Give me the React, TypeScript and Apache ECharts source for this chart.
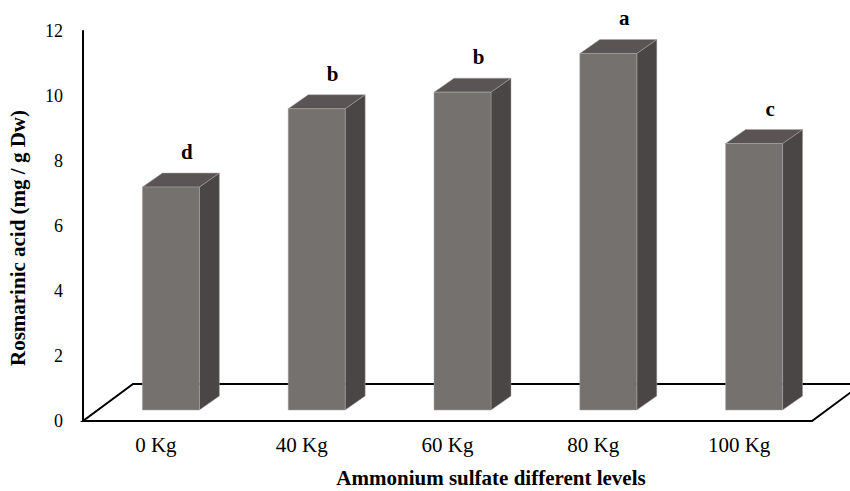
import React, { useEffect, useRef } from "react";
import * as echarts from "echarts";

const categories = ["0 Kg", "40 Kg", "60 Kg", "80 Kg", "100 Kg"];
const values = [6.86, 9.27, 9.78, 10.97, 8.2];
const letters = ["d", "b", "b", "a", "c"];
const yTicks = [0, 2, 4, 6, 8, 10, 12];

const FONT = "'Liberation Serif', 'Times New Roman', serif";

export default function App() {
  const ref = useRef<HTMLDivElement>(null);
  useEffect(() => {
    if (!ref.current) return;
    const chart = echarts.init(ref.current, null, { renderer: "svg" });

    const floorDX = 50;
    const floorDY = -37;
    const barOffX = 15;
    const barOffY = -11;
    const barW = 57;
    const depthX = 20;
    const depthY = -14;

    const option: any = {
      animation: false,
      grid: { left: 83, right: 38, top: 31, bottom: 70 },
      xAxis: {
        type: "category",
        data: categories,
        boundaryGap: true,
        axisLine: { show: true, lineStyle: { color: "#000", width: 2 } },
        axisTick: { show: false },
        axisLabel: { fontFamily: FONT, fontSize: 21, color: "#000", margin: 13 },
        splitLine: { show: false },
      },
      yAxis: {
        type: "value",
        min: yTicks[0],
        max: yTicks[yTicks.length - 1],
        interval: 2,
        axisLine: { show: true, lineStyle: { color: "#000", width: 2 } },
        axisTick: { show: false },
        axisLabel: { fontFamily: FONT, fontSize: 18, color: "#000", margin: 20 },
        splitLine: { show: false },
      },
      series: [
        {
          type: "custom",
          z: 1,
          data: [[0]],
          renderItem: (params: any, api: any) => {
            const cs = params.coordSys;
            const x0 = cs.x;
            const x1 = cs.x + cs.width;
            const y0 = cs.y + cs.height;
            return {
              type: "polygon",
              shape: {
                points: [
                  [x0, y0],
                  [x1, y0],
                  [x1 + floorDX, y0 + floorDY],
                  [x0 + floorDX, y0 + floorDY],
                ],
              },
              style: { fill: "#fff", stroke: "#000", lineWidth: 2 },
              silent: true,
            };
          },
        },
        {
          type: "custom",
          z: 2,
          data: values.map((v, i) => [i, v]),
          renderItem: (params: any, api: any) => {
            const i = api.value(0);
            const v = api.value(1);
            const base = api.coord([i, 0]);
            const top = api.coord([i, v]);
            const cx = base[0] + barOffX;
            const l = cx - barW / 2;
            const r = cx + barW / 2;
            const b = base[1] + barOffY;
            const t = top[1] + barOffY;
            const edge = "rgba(170,166,165,0.6)";
            return {
              type: "group",
              children: [
                {
                  type: "polygon",
                  shape: { points: [[r, b], [r + depthX, b + depthY], [r + depthX, t + depthY], [r, t]] },
                  style: { fill: "#4b4646", stroke: edge, lineWidth: 0.8 },
                },
                {
                  type: "polygon",
                  shape: { points: [[l, t], [r, t], [r + depthX, t + depthY], [l + depthX, t + depthY]] },
                  style: { fill: "#5a5554", stroke: edge, lineWidth: 0.8 },
                },
                {
                  type: "rect",
                  shape: { x: l, y: t, width: barW, height: b - t },
                  style: { fill: "#75716f", stroke: edge, lineWidth: 0.8 },
                },
                {
                  type: "text",
                  x: cx + 16,
                  y: t - 35,
                  style: {
                    text: letters[i],
                    align: "center",
                    verticalAlign: "middle",
                    font: `bold 21px ${FONT}`,
                    fill: "#000",
                  },
                },
              ],
            };
          },
        },
      ],
      graphic: [
        {
          type: "text",
          x: 18,
          y: 238,
          rotation: Math.PI / 2,
          style: {
            text: "Rosmarinic acid (mg / g Dw)",
            align: "center",
            verticalAlign: "middle",
            font: `bold 21px ${FONT}`,
            fill: "#000",
          },
        },
        {
          type: "text",
          x: 491,
          y: 478,
          style: {
            text: "Ammonium sulfate different levels",
            align: "center",
            verticalAlign: "middle",
            font: `bold 21px ${FONT}`,
            fill: "#000",
          },
        },
      ],
    };
    chart.setOption(option);
    return () => chart.dispose();
  }, []);
  return (
    <div
      ref={ref}
      style={{ position: "absolute", left: 0, top: 0, width: 850, height: 491 }}
    />
  );
}
